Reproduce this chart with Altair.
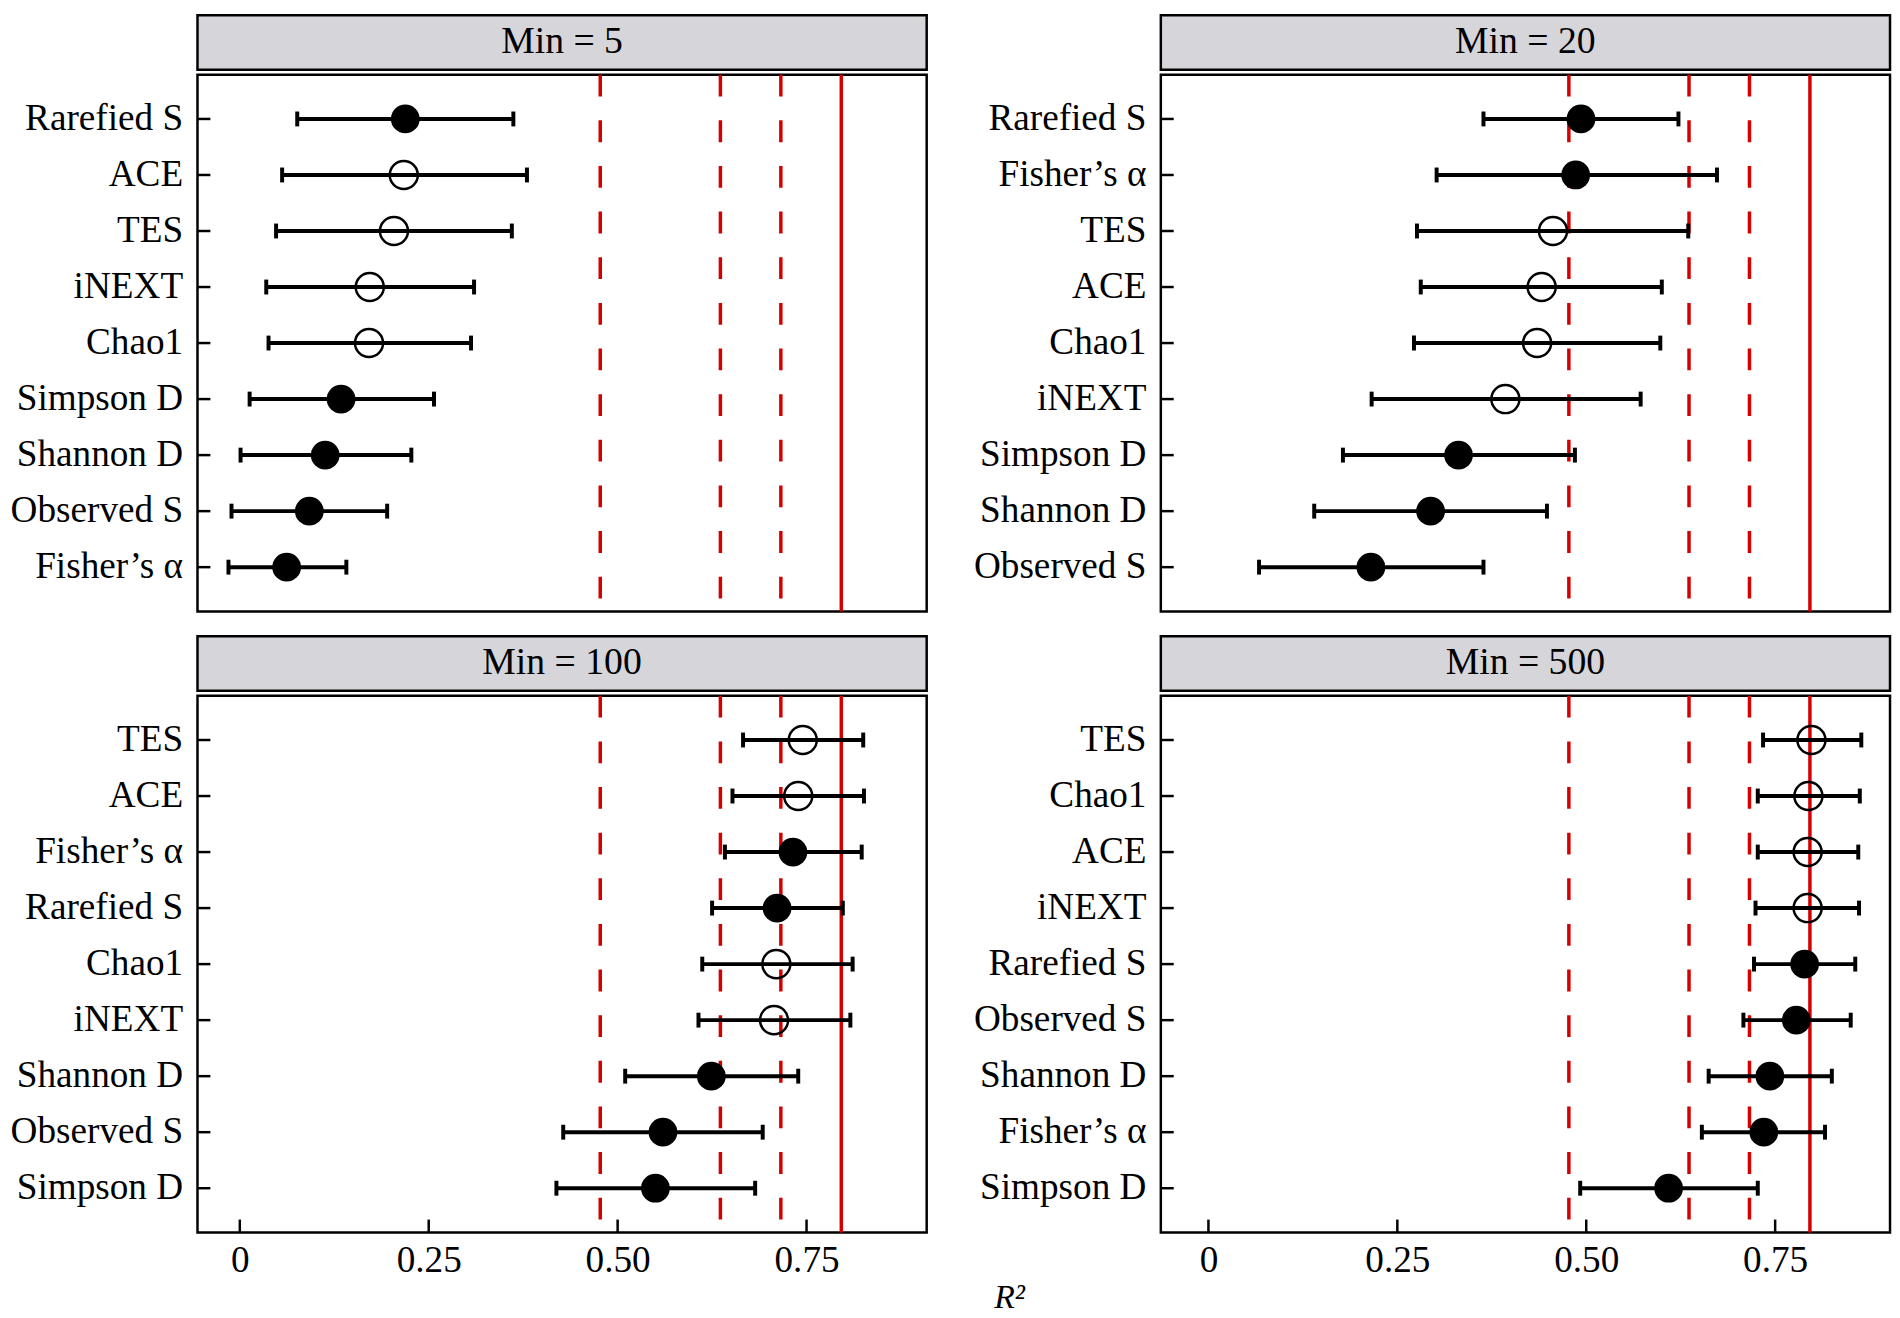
import altair as alt
import pandas as pd

FONT = "Liberation Serif"
RED = "#d40000"
GREY = "#d6d5da"

PANEL_TITLES = ["Min = 5", "Min = 20", "Min = 100", "Min = 500"]

M5_NAMES = ["Rarefied S", "ACE", "TES", "iNEXT", "Chao1", "Simpson D", "Shannon D", "Observed S", "Fisher’s α"]
M5_EST = [0.219, 0.217, 0.204, 0.172, 0.171, 0.134, 0.113, 0.092, 0.062]
M5_LO = [0.076, 0.056, 0.048, 0.035, 0.038, 0.013, 0.001, -0.011, -0.015]
M5_HI = [0.362, 0.380, 0.360, 0.310, 0.306, 0.257, 0.227, 0.195, 0.141]

M20_NAMES = ["Rarefied S", "Fisher’s α", "TES", "ACE", "Chao1", "iNEXT", "Simpson D", "Shannon D", "Observed S"]
M20_EST = [0.493, 0.486, 0.456, 0.441, 0.435, 0.393, 0.331, 0.294, 0.215]
M20_LO = [0.364, 0.302, 0.276, 0.281, 0.272, 0.216, 0.178, 0.140, 0.067]
M20_HI = [0.622, 0.673, 0.635, 0.600, 0.598, 0.572, 0.485, 0.448, 0.364]

M100_NAMES = ["TES", "ACE", "Fisher’s α", "Rarefied S", "Chao1", "iNEXT", "Shannon D", "Observed S", "Simpson D"]
M100_EST = [0.745, 0.739, 0.732, 0.711, 0.710, 0.707, 0.624, 0.560, 0.550]
M100_LO = [0.666, 0.652, 0.642, 0.625, 0.612, 0.607, 0.510, 0.428, 0.419]
M100_HI = [0.825, 0.826, 0.823, 0.798, 0.811, 0.808, 0.739, 0.692, 0.682]

M500_NAMES = ["TES", "Chao1", "ACE", "iNEXT", "Rarefied S", "Observed S", "Shannon D", "Fisher’s α", "Simpson D"]
M500_EST = [0.798, 0.794, 0.793, 0.793, 0.789, 0.778, 0.743, 0.735, 0.609]
M500_LO = [0.734, 0.727, 0.727, 0.724, 0.722, 0.708, 0.662, 0.653, 0.492]
M500_HI = [0.864, 0.862, 0.860, 0.861, 0.856, 0.850, 0.825, 0.816, 0.727]

OPEN_METHODS = ["ACE", "TES", "iNEXT", "Chao1"]
DASHED_REFS = [0.477, 0.636, 0.716]
SOLID_REFS = [0.796]
X_TICKS = [0, 0.25, 0.5, 0.75]

W = 735
H = 541
HH = 55
LABEL_SIZE = 37.5
LEFT_DOMAIN = [-0.056, 0.909]
RIGHT_DOMAIN = [-0.063, 0.902]


def panel(title, names, est, lo, hi, domain, bottom):
    df = pd.DataFrame({"method": names, "est": est, "lo": lo, "hi": hi})
    df["isopen"] = df["method"].isin(OPEN_METHODS)
    xs = alt.Scale(domain=domain, nice=False, zero=False)
    ys = alt.Scale(domain=names, padding=0.58)
    if bottom:
        xaxis = alt.Axis(title=None, values=X_TICKS, ticks=False, domain=False, grid=False,
                         labelFont=FONT, labelFontSize=LABEL_SIZE, labelColor="black", labelPadding=9,
                         labelExpr="datum.value == 0 ? '0' : format(datum.value, '.2f')")
    else:
        xaxis = None
    yaxis = alt.Axis(title=None, ticks=False, domain=False, grid=False, labelFont=FONT,
                     labelFontSize=LABEL_SIZE, labelColor="black", labelPadding=15)

    def X(f):
        return alt.X(f, scale=xs, axis=xaxis)

    Y = alt.Y("method:N", sort=names, scale=ys, axis=yaxis)
    base = alt.Chart(df)

    dashed = alt.Chart(pd.DataFrame({"v": DASHED_REFS})).mark_rule(
        color=RED, strokeWidth=3.5, strokeDash=[22, 24]).encode(x=X("v:Q"))
    solid = alt.Chart(pd.DataFrame({"v": SOLID_REFS})).mark_rule(
        color=RED, strokeWidth=3.5).encode(x=X("v:Q"))
    bars = base.mark_rule(color="black", strokeWidth=4).encode(x=X("lo:Q"), x2="hi:Q", y=Y)
    cap_lo = base.mark_tick(color="black", thickness=4, size=15, opacity=1).encode(x=X("lo:Q"), y=Y)
    cap_hi = base.mark_tick(color="black", thickness=4, size=15, opacity=1).encode(x=X("hi:Q"), y=Y)
    filled = base.transform_filter("!datum.isopen").mark_point(
        filled=True, size=840, color="black", opacity=1).encode(x=X("est:Q"), y=Y)
    hollow = base.transform_filter("datum.isopen").mark_point(
        filled=False, size=800, color="black", strokeWidth=2.5, opacity=1).encode(x=X("est:Q"), y=Y)
    yticks = base.mark_rule(color="black", strokeWidth=2.5).encode(
        x=alt.value(0), x2=alt.value(13), y=Y)
    layers = [dashed, solid, bars, cap_lo, cap_hi, filled, hollow, yticks]
    if bottom:
        xticks = alt.Chart(pd.DataFrame({"t": X_TICKS})).mark_rule(color="black", strokeWidth=2.5).encode(
            x=X("t:Q"), y=alt.value(H - 13), y2=alt.value(H))
        layers.append(xticks)
    plot = alt.layer(*layers).properties(
        width=W, height=H, view=alt.ViewBackground(fill="white", stroke="black", strokeWidth=2.5))

    header = alt.Chart(pd.DataFrame({"t": [title]})).mark_text(
        font=FONT, fontSize=38, color="black", baseline="middle", align="center").encode(
        text="t:N", x=alt.value(W / 2), y=alt.value(HH / 2)).properties(
        width=W, height=HH, view=alt.ViewBackground(fill=GREY, stroke="black", strokeWidth=2.5))
    return alt.vconcat(header, plot, spacing=0)


p1 = panel(PANEL_TITLES[0], M5_NAMES, M5_EST, M5_LO, M5_HI, LEFT_DOMAIN, False)
p2 = panel(PANEL_TITLES[1], M20_NAMES, M20_EST, M20_LO, M20_HI, RIGHT_DOMAIN, False)
p3 = panel(PANEL_TITLES[2], M100_NAMES, M100_EST, M100_LO, M100_HI, LEFT_DOMAIN, True)
p4 = panel(PANEL_TITLES[3], M500_NAMES, M500_EST, M500_LO, M500_HI, RIGHT_DOMAIN, True)

chart = alt.vconcat(
    alt.hconcat(p1, p2, spacing=43),
    alt.hconcat(p3, p4, spacing=43),
    spacing=20,
).properties(
    padding=0,
    background="white",
    title=alt.TitleParams(text="R²", orient="bottom", anchor="middle", font=FONT, fontStyle="italic",
                          fontWeight="normal", fontSize=34, color="black", offset=1, dx=60),
).configure_view(stroke="black", strokeWidth=2.5)

chart.save("out.html", embed_options={"renderer": "svg", "actions": False})
